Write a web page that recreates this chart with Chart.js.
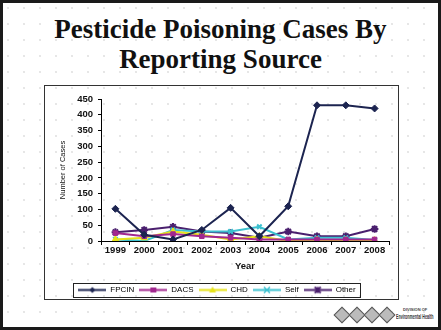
<!DOCTYPE html>
<html>
<head>
<meta charset="utf-8">
<script src="https://cdn.jsdelivr.net/npm/chart.js@4/dist/chart.umd.min.js"></script>
<style>
  html, body { margin: 0; padding: 0; }
  body {
    width: 441px; height: 330px; position: relative; overflow: hidden;
    background-color: #fff;
    background-image: radial-gradient(circle, #e6e6e6 0.7px, transparent 1px);
    background-size: 16px 16px;
    font-family: "Liberation Sans", Arial, sans-serif;
  }
  #frame {
    position: absolute; left: 0; top: 0; width: 441px; height: 330px;
    box-sizing: border-box; border: 3px solid #1a1a1a; pointer-events: none;
  }
  #title {
    position: absolute; left: 0; top: 14px; width: 441px; text-align: center;
    font-family: "Liberation Serif", "DejaVu Serif", serif; font-weight: bold;
    font-size: 27px; line-height: 30px; color: #111;
  }
  #box {
    position: absolute; left: 44px; top: 85px; width: 355px; height: 215px;
    box-sizing: border-box; border: 1px solid #333;
  }
  #plot { position: absolute; left: 45px; top: 86px; width: 353px; height: 218px; }
  #logo { position: absolute; left: 333px; top: 304px; width: 104px; height: 22px; }
  .dia {
    position: absolute; top: 5px; width: 10px; height: 10px; transform: rotate(45deg);
    border: 1.5px solid #555; background: #bbb;
  }
  #logo .small { position: absolute; left: 70px; top: 3px; font-size: 4px; color: #444; font-weight: bold; white-space: nowrap; }
  #logo .big {
    position: absolute; left: 63px; top: 9px; font-size: 7px; color: #333; font-weight: bold;
    white-space: nowrap; transform: scaleX(0.52); transform-origin: left top;
  }
</style>
</head>
<body>
<div id="title">Pesticide Poisoning Cases By<br>Reporting Source</div>
<div id="box"></div>
<div id="plot"><canvas id="c"></canvas></div>
<div id="logo">
  <div class="dia" style="left:3px"></div>
  <div class="dia" style="left:18px"></div>
  <div class="dia" style="left:33px"></div>
  <div class="dia" style="left:48px"></div>
  <div class="small">DIVISION OF</div>
  <div class="big">Environmental Health</div>
</div>
<div id="frame"></div>
<script>
// Reported cases per year, by source
const years = ['1999', '2000', '2001', '2002', '2003', '2004', '2005', '2006', '2007', '2008'];
const fpcin = [102, 20, 5, 35, 105, 15, 110, 430, 430, 420];
const dacs  = [25, 15, 22, 15, 10, 5, 5, 5, 5, 5];
const chd   = [5, 10, 30, 20, 5, 15, 0, 3, 2, 2];
const self  = [5, 0, 35, 30, 30, 45, 5, 10, 10, 3];
const other = [28, 35, 45, 30, 25, 10, 30, 15, 15, 38];
const yTicks = [0, 50, 100, 150, 200, 250, 300, 350, 400, 450];

const series = [
  { label: 'FPCIN', data: fpcin, color: '#1c2450', marker: 'rectRot', r: 3.5 },
  { label: 'DACS',  data: dacs,  color: '#a2288f', marker: 'rect',    r: 3.2 },
  { label: 'CHD',   data: chd,   color: '#e6e21a', marker: 'triangle', r: 3.8 },
  { label: 'Self',  data: self,  color: '#3cc0cf', marker: 'crossRot', r: 3.2 },
  { label: 'Other', data: other, color: '#4a1f6e', marker: 'star',    r: 3.8 }
];

// Small legend swatch: a line segment with the series marker in the middle
function swatch(s) {
  const w = 28, h = 9;
  const cv = document.createElement('canvas');
  cv.width = w; cv.height = h;
  const g = cv.getContext('2d');
  const cx = w / 2, cy = h / 2;
  g.strokeStyle = s.color; g.fillStyle = s.color; g.lineWidth = 2;
  g.beginPath(); g.moveTo(0, cy); g.lineTo(w, cy); g.stroke();
  const r = 3;
  g.beginPath();
  if (s.marker === 'rectRot') {
    g.moveTo(cx, cy - r); g.lineTo(cx + r, cy); g.lineTo(cx, cy + r); g.lineTo(cx - r, cy); g.closePath(); g.fill();
  } else if (s.marker === 'rect') {
    g.fillRect(cx - r, cy - r + 0.5, 2 * r, 2 * r - 1);
  } else if (s.marker === 'triangle') {
    g.moveTo(cx, cy - r - 0.5); g.lineTo(cx + r + 0.5, cy + r - 0.5); g.lineTo(cx - r - 0.5, cy + r - 0.5); g.closePath(); g.fill();
  } else if (s.marker === 'crossRot') {
    g.lineWidth = 1.5;
    g.moveTo(cx - r, cy - r); g.lineTo(cx + r, cy + r); g.moveTo(cx + r, cy - r); g.lineTo(cx - r, cy + r); g.stroke();
  } else {
    g.lineWidth = 1.8;
    g.moveTo(cx - r, cy - r); g.lineTo(cx + r, cy + r); g.moveTo(cx + r, cy - r); g.lineTo(cx - r, cy + r);
    g.moveTo(cx, cy - r); g.lineTo(cx, cy + r); g.stroke();
    g.fillRect(cx - 2, cy - 2, 4, 4);
  }
  return cv;
}

// Outline around the legend entries
const legendFrame = {
  id: 'legendFrame',
  afterDraw(chart) {
    const lg = chart.legend;
    if (!lg || !lg.legendHitBoxes || !lg.legendHitBoxes.length) return;
    const hb = lg.legendHitBoxes;
    let l = Infinity, r = -Infinity, t = Infinity, b = -Infinity;
    hb.forEach(h => { l = Math.min(l, h.left); r = Math.max(r, h.left + h.width); t = Math.min(t, h.top); b = Math.max(b, h.top + h.height); });
    const ctx = chart.ctx;
    ctx.save();
    ctx.strokeStyle = '#222'; ctx.lineWidth = 1;
    ctx.strokeRect(Math.round(l - 5) + 0.5, Math.round(t - 3) + 0.5, Math.round(r - l + 10), Math.round(b - t + 6));
    ctx.restore();
  }
};

const tickFont = { family: '"Liberation Sans", Arial, sans-serif', size: 9.5, weight: 'bold' };

new Chart(document.getElementById('c'), {
  type: 'line',
  data: {
    labels: years,
    datasets: series.map(s => ({
      label: s.label,
      data: s.data,
      borderColor: s.color,
      backgroundColor: s.color,
      borderWidth: 2,
      pointStyle: s.marker,
      pointRadius: s.r,
      pointBorderWidth: (s.marker === 'crossRot' || s.marker === 'star') ? 2 : 1,
      tension: 0,
      fill: false
    }))
  },
  options: {
    responsive: true,
    maintainAspectRatio: false,
    animation: false,
    layout: { padding: { left: 0, right: 9, top: 13, bottom: 0 } },
    plugins: {
      tooltip: { enabled: false },
      legend: {
        position: 'bottom',
        labels: {
          usePointStyle: true,
          pointStyleWidth: 28,
          boxHeight: 8,
          padding: 5,
          color: '#111',
          font: { family: '"Liberation Sans", Arial, sans-serif', size: 8 },
          generateLabels: () => series.map((s, i) => ({
            text: s.label, pointStyle: swatch(s), datasetIndex: i,
            fillStyle: s.color, strokeStyle: s.color, lineWidth: 0, hidden: false
          }))
        }
      }
    },
    scales: {
      x: {
        offset: true,
        afterFit: sc => { sc.height = 40; },
        grid: { offset: true, drawOnChartArea: false, drawTicks: true, tickLength: 4, color: '#000' },
        border: { display: true, color: '#000', width: 1 },
        ticks: { color: '#111', font: tickFont, padding: 0, maxRotation: 0, autoSkip: false },
        title: { display: true, text: 'Year', color: '#111', font: { family: '"Liberation Sans", Arial, sans-serif', size: 9.5, weight: 'bold' }, padding: { top: 0, bottom: 9 } }
      },
      y: {
        min: 0, max: 450,
        afterFit: sc => { sc.width = 56; },
        afterBuildTicks: sc => { sc.ticks = yTicks.map(v => ({ value: v })); },
        grid: { drawOnChartArea: false, drawTicks: true, tickLength: 3, color: '#000' },
        border: { display: true, color: '#000', width: 1 },
        ticks: { color: '#111', font: tickFont, padding: 5 },
        title: { display: true, text: 'Number of Cases', color: '#111', font: { family: '"Liberation Sans", Arial, sans-serif', size: 7.5 }, padding: { top: 13, bottom: 0 } }
      }
    }
  },
  plugins: [legendFrame]
});
</script>
</body>
</html>
